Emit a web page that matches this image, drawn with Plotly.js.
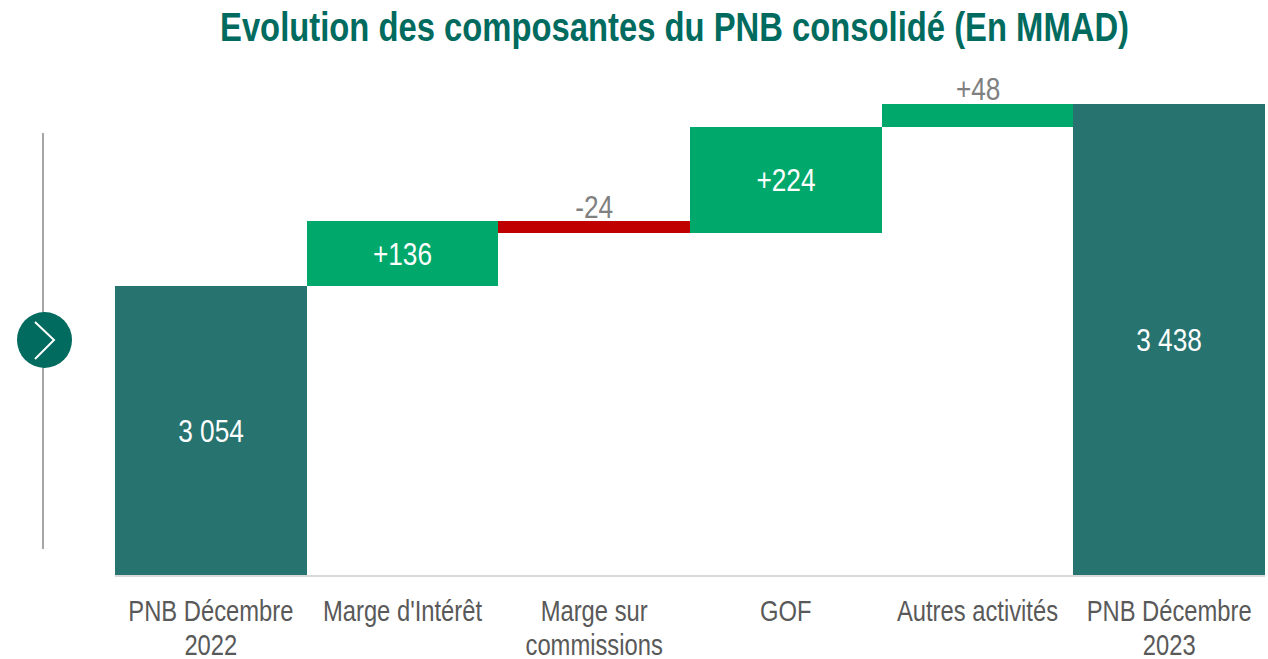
<!DOCTYPE html>
<html>
<head>
<meta charset="utf-8">
<script src="https://cdn.plot.ly/plotly-3.0.1.min.js"></script>
<style>html,body{margin:0;padding:0;background:#fff;overflow:hidden}</style>
</head>
<body>
<div id="chart" style="width:1268px;height:659px"></div>
<script>
const categories = ["PNB Décembre<br>2022", "Marge d'Intérêt", "Marge sur<br>commissions", "GOF", "Autres activités", "PNB Décembre<br>2023"];
const barLows = [0, 3054, 3166, 3166, 3390, 0];
const barHighs = [3054, 3190, 3190, 3390, 3438, 3438];
const barLabels = ["3 054", "+136", "-24", "+224", "+48", "3 438"];
const barColors = ["#267370", "#00A86B", "#C00000", "#00A86B", "#00A86B", "#267370"];
const labelOutside = [false, false, true, false, true, false];
const axisRange = [2444, 3499];

const FONT = "'Liberation Sans',Arial,sans-serif";
const W = 1268, H = 659;
const NARROW = 0.82;

const visibleLows = barLows.map(v => Math.max(v, axisRange[0]));

const trace = {
  type: "bar",
  x: categories,
  y: barHighs.map((v, i) => v - visibleLows[i]),
  base: visibleLows,
  text: barLabels.map((t, i) => labelOutside[i] ? "" : t),
  textposition: "inside",
  insidetextanchor: "middle",
  constraintext: "none",
  textangle: 0,
  textfont: {family: FONT, size: 32, color: "#ffffff"},
  marker: {color: barColors, line: {width: 0}},
  width: 1,
  hoverinfo: "x+y"
};

const annotations = categories.map((c, i) => labelOutside[i] ? {
  x: c, y: barHighs[i], xref: "x", yref: "y",
  text: barLabels[i], showarrow: false, yanchor: "bottom", yshift: -5.5,
  font: {family: FONT, size: 32, color: "#808080"}
} : null).filter(Boolean);

const layout = {
  width: W, height: H,
  margin: {l: 115, r: 3, t: 75, b: 84, pad: 0},
  paper_bgcolor: "#ffffff",
  plot_bgcolor: "#ffffff",
  showlegend: false,
  bargap: 0,
  annotations: annotations,
  title: {
    text: "<b>Evolution des composantes du PNB consolidé (En MMAD)</b>",
    font: {family: FONT, size: 40, color: "#006B5E"},
    x: 674.5 / W, xanchor: "center",
    y: 1 - 27 / H, yanchor: "middle"
  },
  xaxis: {
    type: "category",
    categoryorder: "array",
    categoryarray: categories,
    showgrid: false, zeroline: false,
    showline: true, linecolor: "#D9D9D9", linewidth: 2,
    ticks: "", ticklen: 0,
    tickangle: 0,
    ticklabelstandoff: 9,
    tickfont: {family: FONT, size: 29, color: "#595959"},
    automargin: false
  },
  yaxis: {
    range: axisRange,
    visible: false,
    showgrid: false, zeroline: false,
    fixedrange: true
  },
  shapes: [
    {type: "line", xref: "paper", yref: "paper", xsizemode: "pixel", ysizemode: "pixel", xanchor: 0, yanchor: 0,
     x0: 43 - 115, x1: 43 - 115, y0: 26, y1: 442, line: {color: "#A6A6A6", width: 2}, layer: "below"},
    {type: "circle", xref: "paper", yref: "paper", xsizemode: "pixel", ysizemode: "pixel", xanchor: 0, yanchor: 0,
     x0: 17 - 115, x1: 72 - 115, y0: 575 - 368, y1: 575 - 312, fillcolor: "#006B5E", line: {width: 0}},
    {type: "path", xref: "paper", yref: "paper", xsizemode: "pixel", ysizemode: "pixel", xanchor: 0, yanchor: 0,
     path: "M " + (35 - 115) + " " + (575 - 322) + " L " + (54 - 115) + " " + (575 - 340) + " L " + (35 - 115) + " " + (575 - 359),
     line: {color: "#ffffff", width: 2}}
  ]
};

Plotly.newPlot("chart", [trace], layout, {displayModeBar: false, responsive: false}).then(gd => {
  // The reference uses a narrow face; no narrow font is installed, so condense the real text.
  gd.querySelectorAll(".xtick text tspan.line").forEach(t => {
    if (t.previousElementSibling) t.setAttribute("dy", "34px");
  });
  gd.querySelectorAll("svg.main-svg text").forEach(t => {
    if (!t.textContent) return;
    const b = t.getBBox();
    const cx = b.x + b.width / 2;
    const old = t.getAttribute("transform") || "";
    t.setAttribute("transform", old + " translate(" + cx + " 0) scale(" + NARROW + " 1) translate(" + (-cx) + " 0)");
  });
});
</script>
</body>
</html>
